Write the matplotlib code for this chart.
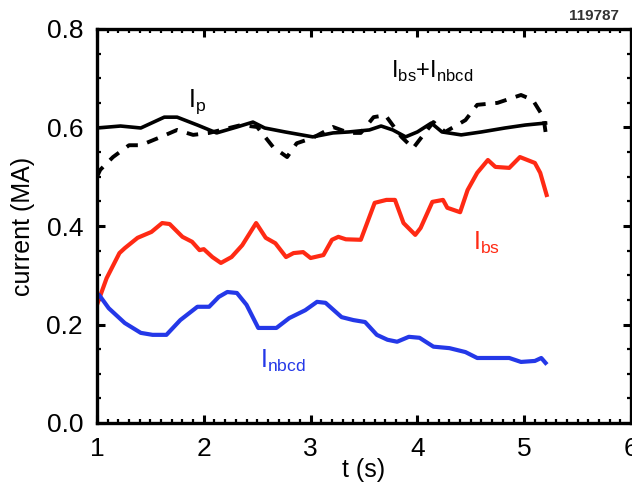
import numpy as np
import matplotlib
matplotlib.use('Agg')
import matplotlib.pyplot as plt
from matplotlib.ticker import MultipleLocator, FormatStrFormatter

plt.rcParams['font.family'] = ['Liberation Sans Narrow', 'Liberation Sans', 'DejaVu Sans']
plt.rcParams['mathtext.fontset'] = 'custom'
plt.rcParams['mathtext.rm'] = 'Liberation Sans'

# plasma current Ip
t_p = [1.0, 1.22, 1.41, 1.63, 1.75, 1.94, 2.12, 2.31, 2.46, 2.57, 2.76, 3.02, 3.21, 3.36,
       3.55, 3.66, 3.77, 3.89, 4.0, 4.13, 4.23, 4.41, 4.60, 4.82, 5.01, 5.2]
I_p = [0.599, 0.603, 0.599, 0.621, 0.621, 0.605, 0.589, 0.601, 0.611, 0.599, 0.591, 0.581, 0.589, 0.591,
       0.595, 0.603, 0.595, 0.581, 0.591, 0.609, 0.591, 0.585, 0.591, 0.599, 0.605, 0.609]

# Ibs + Inbcd (dashed)
t_sum = [1.0, 1.03, 1.15, 1.30, 1.41, 1.6, 1.75, 1.90, 2.05, 2.35, 2.5, 2.65, 2.78, 2.87, 3.02,
         3.21, 3.36, 3.47, 3.59, 3.70, 3.85, 3.96, 4.07, 4.15, 4.26, 4.45, 4.56, 4.75, 4.97,
         5.08, 5.18, 5.2]
I_sum = [0.50, 0.514, 0.540, 0.564, 0.564, 0.581, 0.595, 0.585, 0.589, 0.605, 0.601, 0.560, 0.540,
         0.568, 0.579, 0.601, 0.589, 0.589, 0.621, 0.625, 0.581, 0.558, 0.589, 0.611, 0.591, 0.615,
         0.646, 0.650, 0.666, 0.656, 0.621, 0.591]

# bootstrap current Ibs
t_bs = [1.0, 1.09, 1.21, 1.26, 1.38, 1.51, 1.61, 1.68, 1.80, 1.89, 1.96, 2.0, 2.08, 2.16, 2.26,
        2.36, 2.49, 2.58, 2.67, 2.77, 2.84, 2.93, 3.0, 3.12, 3.20, 3.26, 3.33, 3.47, 3.60, 3.71,
        3.79, 3.87, 3.98, 4.03, 4.14, 4.24, 4.28, 4.40, 4.47, 4.56, 4.66, 4.73, 4.86, 4.96, 5.10,
        5.15, 5.21]
I_bs = [0.24, 0.294, 0.345, 0.355, 0.376, 0.388, 0.406, 0.404, 0.378, 0.368, 0.351, 0.353, 0.337,
        0.325, 0.337, 0.361, 0.406, 0.376, 0.365, 0.337, 0.345, 0.347, 0.335, 0.341, 0.372, 0.378,
        0.373, 0.372, 0.447, 0.453, 0.453, 0.406, 0.382, 0.396, 0.449, 0.453, 0.437, 0.428, 0.473,
        0.508, 0.534, 0.520, 0.518, 0.540, 0.528, 0.508, 0.463]

# neutral beam driven current Inbcd
t_nb = [1.0, 1.02, 1.11, 1.26, 1.41, 1.52, 1.65, 1.78, 1.94, 2.05, 2.14, 2.22, 2.31, 2.40, 2.51,
        2.68, 2.80, 2.95, 3.06, 3.14, 3.29, 3.40, 3.51, 3.62, 3.72, 3.81, 3.92, 4.02, 4.15, 4.30,
        4.45, 4.56, 4.71, 4.86, 4.97, 5.10, 5.16, 5.2]
I_nb = [0.255, 0.26, 0.233, 0.203, 0.183, 0.179, 0.179, 0.209, 0.236, 0.236, 0.256, 0.266, 0.264,
        0.240, 0.193, 0.193, 0.213, 0.229, 0.246, 0.244, 0.215, 0.209, 0.205, 0.179, 0.169, 0.165,
        0.175, 0.173, 0.155, 0.152, 0.144, 0.132, 0.132, 0.132, 0.124, 0.126, 0.132, 0.122]

red = '#ff2a14'
blue = '#2438e8'

fig = plt.figure(figsize=(6.32, 4.93), dpi=100)
ax = fig.add_axes([97 / 632, 70 / 493, 534 / 632, 394 / 493])

ax.plot(t_p, I_p, color='black', lw=2.6)
ax.plot(t_sum, I_sum, color='black', lw=2.8, dashes=(3, 2.5))
ax.plot(t_bs, I_bs, color=red, lw=3)
ax.plot(t_nb, I_nb, color=blue, lw=3)

ax.text(1.85, 0.642, r'I$_{\mathrm{p}}$', fontsize=18, color='black')
ax.text(3.75, 0.70, r'I$_{\mathrm{bs}}$+I$_{\mathrm{nbcd}}$', fontsize=17, color='black')
ax.text(4.52, 0.351, r'I$_{\mathrm{bs}}$', fontsize=18, color=red)
ax.text(2.53, 0.112, r'I$_{\mathrm{nbcd}}$', fontsize=18, color=blue)

ax.set_xlim(1, 6)
ax.set_ylim(0, 0.8)
ax.xaxis.set_major_locator(MultipleLocator(1))
ax.xaxis.set_minor_locator(MultipleLocator(0.1))
ax.yaxis.set_major_locator(MultipleLocator(0.2))
ax.yaxis.set_minor_locator(MultipleLocator(0.05))
ax.xaxis.set_major_formatter(FormatStrFormatter('%d'))
ax.yaxis.set_major_formatter(FormatStrFormatter('%.1f'))
ax.tick_params(which='both', direction='in', top=True, right=True, labelsize=19, colors='black')
ax.tick_params(which='major', length=6, width=2.2, pad=10)
ax.tick_params(which='minor', length=3, width=1.6)
for s in ax.spines.values():
    s.set_linewidth(2.4)

ax.set_xlabel('t (s)', fontsize=18, labelpad=-2)
ax.set_ylabel('current (MA)', fontsize=18, labelpad=8)

fig.text(594 / 632, 1 - 16 / 493, '119787', fontsize=11, fontweight='bold',
         ha='center', va='center', color='#333333')

fig.savefig('out.png', dpi=100)
